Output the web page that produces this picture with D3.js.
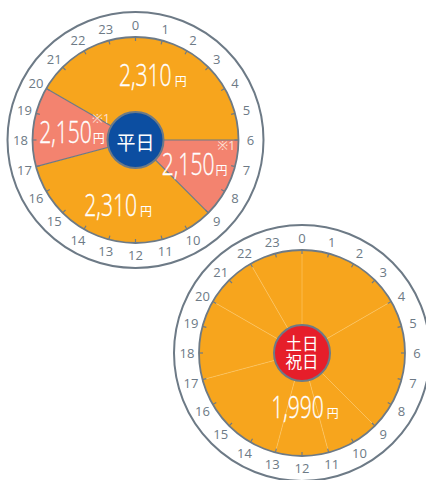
<!DOCTYPE html>
<html><head><meta charset="utf-8">
<script src="https://cdn.jsdelivr.net/npm/d3@7/dist/d3.min.js"></script>
<style>html,body{margin:0;padding:0;background:#fff;}svg{display:block;}</style>
</head><body>
<script>
// ---- data ----
const hourLabels = ["0","1","2","3","4","5","6","7","8","9","10","11","12","13","14","15","16","17","18","19","20","21","22","23"];
const weekdayBounds = [6, 9, 17, 20];          // segment start hours (wraps)
const weekdayFares  = [2150, 2310, 2150, 2310];
const weekdayNotes  = ["※1", "", "※1", ""];
const holidayBounds = [0, 4, 9, 11, 13, 17, 20, 22];
const holidayFares  = [1990, 1990, 1990, 1990, 1990, 1990, 1990, 1990];
const weekdayTitle = ["平日"];
const holidayTitle = ["土日", "祝日"];
const holidayLabelFare = 1990;

// ---- style ----
const W = 426, H = 480;
const C_ORANGE = "#f7a51d", C_SALMON = "#f3836f", C_GRAY = "#6d7a86";
const fareColor = f => f === 2150 ? C_SALMON : C_ORANGE;
const R_OUT = 128, R_PIE = 103, R_IN = 28, R_LBL = 115;
const NUM = "'Open Sans', 'Noto Sans', sans-serif";
const CJK = "'Noto Sans CJK JP', sans-serif";
const fmt = d3.format(",");

const svg = d3.select("body").append("svg").attr("width", W).attr("height", H);
const hourAngle = d3.scaleLinear().domain([0, 24]).range([0, 2 * Math.PI]);
const arc = d3.arc().innerRadius(0).outerRadius(R_PIE);

function segs(bounds, fares) {
  return bounds.map((b, i) => {
    let e = i < bounds.length - 1 ? bounds[i + 1] : bounds[0] + 24;
    return { start: b, end: e, fare: fares[i], i };
  });
}

function polar(h, r) {
  const a = hourAngle(h);
  return [Math.sin(a) * r, -Math.cos(a) * r];
}

function fareLabel(g, x, y, fare, gap, size) {
  const lg = g.append("g");
  const num = lg.append("text").text(fmt(fare))
    .attr("font-family", NUM).attr("font-size", size).attr("font-weight", 300).attr("fill", "#fff")
    .attr("stroke", "#fff").attr("stroke-width", 0.35)
    .attr("transform", "scale(0.68,1)");
  const nw = num.node().getComputedTextLength() * 0.68;
  const yen = lg.append("text").text("円")
    .attr("font-family", CJK).attr("font-size", 12).attr("fill", "#fff")
    .attr("x", nw + gap);
  const yw = yen.node().getComputedTextLength();
  const tot = nw + gap + yw;
  lg.attr("transform", `translate(${x - tot / 2},${y + 11})`);
}

function clock(cx, cy, bounds, fares, lineColor, lineWidth) {
  const g = svg.append("g").attr("transform", `translate(${cx},${cy})`);
  g.append("circle").attr("r", R_OUT).attr("fill", "#fff").attr("stroke", C_GRAY).attr("stroke-width", 2);
  // hour labels
  g.selectAll("text.hr").data(hourLabels).join("text").attr("class", "hr")
    .attr("x", (d, i) => polar(i, R_LBL)[0])
    .attr("y", (d, i) => polar(i, R_LBL)[1])
    .attr("text-anchor", "middle").attr("dominant-baseline", "central")
    .attr("font-family", NUM).attr("font-size", 13).attr("fill", C_GRAY)
    .text(d => d);
  const s = segs(bounds, fares);
  g.selectAll("path.seg").data(s).join("path").attr("class", "seg")
    .attr("d", d => arc({ startAngle: hourAngle(d.start), endAngle: hourAngle(d.end) }))
    .attr("fill", d => fareColor(d.fare));
  // boundary lines
  g.selectAll("line.bd").data(bounds).join("line").attr("class", "bd")
    .attr("x1", 0).attr("y1", 0)
    .attr("x2", d => polar(d, R_PIE)[0]).attr("y2", d => polar(d, R_PIE)[1])
    .attr("stroke", lineColor).attr("stroke-width", lineWidth);
  g.append("circle").attr("r", R_PIE).attr("fill", "none").attr("stroke", C_GRAY).attr("stroke-width", 1.8);
  // ticks
  g.selectAll("line.tk").data(hourLabels).join("line").attr("class", "tk")
    .attr("x1", (d, i) => polar(i, R_PIE - 4)[0]).attr("y1", (d, i) => polar(i, R_PIE - 4)[1])
    .attr("x2", (d, i) => polar(i, R_PIE)[0]).attr("y2", (d, i) => polar(i, R_PIE)[1])
    .attr("stroke", C_GRAY).attr("stroke-width", 1.2);
  return { g, s };
}

// ---- weekday ----
const wk = clock(135.5, 140, weekdayBounds, weekdayFares, C_GRAY, 1.2);
wk.s.forEach(d => {
  const mid = (d.start + d.end) / 2;
  const [x, y] = polar(mid, d.fare === 2150 ? 64 : 67);
  fareLabel(wk.g, x, y, d.fare, d.fare === 2150 ? 1 : 3, 31);
});
// notes ※1
const notePos = [[6.2, 91], null, [20.2, 41], null];
weekdayNotes.forEach((n, i) => {
  if (!n) return;
  const [x, y] = polar(notePos[i][0], notePos[i][1]);
  wk.g.append("text").text(n).attr("x", x).attr("y", y)
    .attr("text-anchor", "middle").attr("dominant-baseline", "central")
    .attr("font-family", NUM).attr("font-size", 13).attr("fill", "#fde0d4");
});
wk.g.append("circle").attr("r", R_IN).attr("fill", "#0c4ea1").attr("stroke", C_GRAY).attr("stroke-width", 2);
wk.g.append("text").text(weekdayTitle[0]).attr("y", 1).attr("text-anchor", "middle")
  .attr("dominant-baseline", "central").attr("font-family", CJK).attr("font-size", 19).attr("fill", "#fff");

// ---- holiday ----
const hd = clock(302, 353, holidayBounds, holidayFares, "#fbc461", 0.7);
fareLabel(hd.g, 3, 54, holidayLabelFare, 3, 31);
hd.g.append("circle").attr("r", R_IN).attr("fill", "#e61e2a").attr("stroke", C_GRAY).attr("stroke-width", 2);
const tt = hd.g.append("text").attr("text-anchor", "middle")
  .attr("font-family", CJK).attr("font-size", 16.5).attr("fill", "#fff");
tt.selectAll("tspan").data(holidayTitle).join("tspan")
  .attr("x", 0).attr("y", (d, i) => i === 0 ? -3 : 15)
  .text(d => d);
</script>
</body></html>
